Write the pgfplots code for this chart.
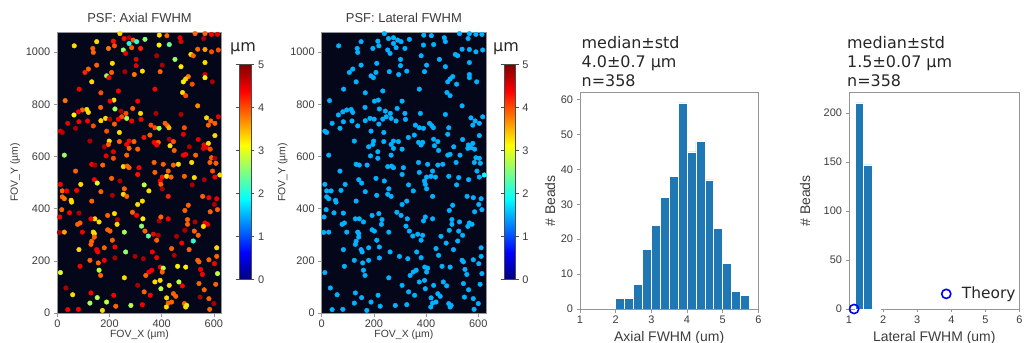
\documentclass[border=0pt]{standalone}
\usepackage{fontspec}
\setmainfont{Liberation Sans}
\newfontfamily\dejavu{DejaVu Sans}
\usepackage{pgfplots}
\pgfplotsset{compat=1.18}
\usepackage{pgfplotstable}
\usetikzlibrary{calc}
\definecolor{bgdark}{RGB}{4,6,26}
\definecolor{histblue}{RGB}{31,119,180}
\definecolor{txt}{RGB}{60,60,60}
\definecolor{spine}{RGB}{150,150,150}

\pgfplotstableread{
x y ax lat
240 1071 3.3 1.5
391 1065 3.3 1.5
420 1063 3.9 1.5
528 1071 3.9 1.5
566 1071 3.9 1.5
591 1068 4.4 1.5
614 1068 4.5 1.5
256 1052 4.3 1.5
275 1055 4.8 1.5
291 1046 3.9 1.5
215 1042 4.3 1.5
151 1040 3.3 1.5
65 1024 3.3 1.5
275 1033 2.0 1.5
304 1040 2.1 1.5
336 1049 2.6 1.5
390 1027 3.2 1.5
429 1029 2.4 1.5
470 1055 4.5 1.5
474 1040 4.5 1.5
561 1052 4.8 1.5
136 1014 3.9 1.5
138 999 3.9 1.5
196 1014 3.8 1.5
219 1024 4.0 1.5
253 1008 2.6 1.5
262 995 4.5 1.5
285 1017 3.9 1.5
319 1014 4.2 1.5
512 991 3.3 1.5
521 986 3.9 1.5
538 1011 3.9 1.5
566 1010 3.6 1.5
591 1001 4.0 1.5
617 1008 4.0 1.5
381 986 4.8 1.5
302 972 4.5 1.5
451 972 2.6 1.5
566 960 3.3 1.5
211 957 3.3 1.5
151 950 3.9 1.5
119 935 3.9 1.5
106 922 4.2 1.5
259 925 4.8 1.5
302 948 4.5 1.5
402 950 4.8 1.5
474 944 3.2 1.5
394 925 3.9 1.5
326 927 3.3 1.5
208 922 3.9 1.5
189 909 2.6 1.5
198 902 4.4 1.5
295 914 3.8 1.5
566 914 4.6 1.5
566 902 3.2 1.5
502 906 3.8 1.5
492 897 3.4 1.5
483 886 3.2 1.5
594 886 4.8 1.5
132 886 3.3 1.5
517 877 4.0 1.5
84 858 4.4 1.5
374 858 4.4 1.5
234 851 4.4 1.5
167 844 4.0 1.5
480 845 3.3 1.5
492 833 4.0 1.5
30 814 3.8 1.5
217 816 3.3 1.5
202 812 4.4 1.5
308 812 4.4 1.5
538 794 3.7 1.5
166 788 3.9 1.5
113 780 3.3 1.5
119 769 3.3 1.5
96 778 3.9 1.5
81 771 4.4 1.5
64 759 3.2 1.5
221 782 2.7 1.5
244 774 4.8 1.5
289 784 3.9 1.5
319 765 3.3 1.5
263 765 4.0 1.5
247 752 4.0 1.5
266 746 2.7 1.5
234 743 4.4 1.5
474 761 4.8 1.5
378 765 4.8 1.5
185 746 3.3 1.5
167 737 3.3 1.5
201 743 4.8 1.5
285 736 4.4 1.5
321 742 4.4 1.5
572 748 3.3 1.5
617 752 4.5 1.5
588 736 3.9 1.5
604 727 3.9 1.5
579 720 3.9 1.5
116 736 4.4 1.5
83 733 4.4 1.5
40 727 4.5 1.5
219 724 3.9 1.5
413 727 3.9 1.5
422 718 3.9 1.5
428 710 3.5 1.5
359 720 4.0 1.5
374 710 4.0 1.5
390 708 2.7 1.5
487 710 4.0 1.5
138 717 4.0 1.5
12 697 4.5 1.5
19 692 4.7 1.5
70 708 4.8 1.5
189 697 4.0 1.5
238 692 3.3 1.5
332 673 4.3 1.5
355 682 3.9 1.5
483 685 4.5 1.5
540 665 4.5 1.5
604 680 3.3 1.5
125 659 4.8 1.5
199 659 3.3 1.5
238 657 3.9 1.5
275 659 4.4 1.5
294 657 3.9 1.5
371 654 4.4 1.5
387 654 3.9 1.5
429 666 4.8 1.5
445 657 4.0 1.5
196 646 3.9 1.5
180 637 4.8 1.5
266 646 4.4 1.5
381 644 4.4 1.5
432 641 3.3 1.5
506 637 4.8 1.5
562 644 4.4 1.5
579 650 3.3 1.5
572 634 4.5 1.5
560 631 4.5 1.5
586 628 4.0 1.5
275 631 3.9 1.5
308 628 3.9 1.5
448 623 3.9 1.5
215 618 4.5 1.5
27 605 2.6 1.5
187 602 4.5 1.5
215 593 4.0 1.5
266 605 3.9 1.5
483 605 4.4 1.5
492 608 4.4 1.5
530 605 3.9 1.5
591 595 3.9 1.5
604 593 4.8 1.5
371 577 3.9 1.5
515 577 3.3 1.5
585 577 3.9 1.5
132 570 4.4 1.5
144 567 4.8 1.5
174 567 3.9 1.5
253 561 3.3 1.5
268 563 3.9 1.5
275 557 3.9 1.5
313 557 4.4 1.5
406 570 3.9 1.5
445 567 3.9 1.5
464 570 3.3 1.5
608 574 3.9 1.5
70 544 3.9 1.5
374 539 3.9 1.5
425 544 3.9 1.5
595 544 4.0 1.5
308 531 4.3 1.5
402 521 4.3 1.5
419 524 3.3 1.5
436 521 3.9 1.5
487 524 3.9 1.5
525 519 3.3 1.5
604 521 4.4 1.5
623 529 3.3 1.9
208 516 3.9 1.5
142 511 4.4 1.5
240 506 4.8 1.5
394 506 4.4 1.5
397 493 3.9 1.5
12 493 4.4 1.5
90 493 3.3 1.5
153 498 3.0 1.5
333 491 2.8 1.5
517 491 4.8 1.5
563 511 4.8 1.5
257 476 3.9 1.5
402 476 4.8 1.5
351 468 3.3 1.5
19 468 3.9 1.5
36 468 4.4 1.5
74 470 4.4 1.5
167 465 3.9 1.5
211 451 4.8 1.5
253 455 3.3 1.5
266 447 3.9 1.5
19 445 3.9 1.5
27 438 3.8 1.5
53 432 3.3 1.5
55 425 3.3 1.5
132 429 3.9 1.5
308 416 3.3 1.5
326 429 3.3 1.5
425 447 4.2 1.5
557 447 3.9 1.5
581 442 4.4 1.5
611 438 4.5 1.5
602 416 4.8 1.5
502 413 3.9 1.5
489 393 3.9 1.5
17 396 3.9 1.5
47 384 4.4 1.5
9 368 4.4 1.5
83 383 4.8 1.5
193 374 3.9 1.5
219 381 3.3 1.5
304 374 4.4 1.5
288 386 3.9 1.5
231 358 4.8 1.5
144 361 3.3 1.5
129 361 4.4 1.5
160 349 3.3 1.5
87 345 3.9 1.5
78 340 3.9 1.5
229 340 3.3 1.5
328 361 3.2 1.5
323 333 2.6 1.5
390 353 4.8 1.5
397 368 3.9 1.5
425 361 4.4 1.5
499 358 3.9 1.5
499 340 3.9 1.5
528 349 4.8 1.5
566 345 4.4 1.5
576 340 4.4 1.5
560 332 3.3 1.5
586 388 3.9 1.5
614 396 3.9 1.5
8 309 4.8 1.5
27 310 3.6 1.5
96 310 4.4 1.5
138 310 3.3 1.5
142 304 3.3 1.5
193 319 3.9 1.5
202 314 3.9 1.5
257 310 2.7 1.5
336 314 3.9 1.5
349 295 2.3 1.5
368 302 4.4 1.5
387 298 4.8 1.5
489 317 4.8 1.5
525 314 3.9 1.5
540 298 3.9 1.5
457 294 4.8 1.5
132 275 3.9 1.5
129 263 3.9 1.5
142 291 3.9 1.5
151 243 4.4 1.5
155 234 4.4 1.5
211 279 3.9 1.5
221 253 4.4 1.5
180 250 3.9 1.5
381 279 3.9 1.5
477 268 4.4 1.5
521 276 2.1 1.5
611 250 3.3 1.5
83 243 3.3 1.5
438 247 3.9 1.5
505 243 3.9 1.5
262 234 2.6 1.5
364 234 4.4 1.5
125 202 3.9 1.5
180 202 4.4 1.5
157 192 3.9 1.5
221 211 4.8 1.5
298 217 4.8 1.5
330 208 4.8 1.5
381 212 4.4 1.5
448 221 4.8 1.5
538 202 3.9 1.5
543 196 3.9 1.5
581 204 3.9 1.5
611 217 3.9 1.5
602 189 4.4 1.5
87 179 4.4 1.5
160 164 2.8 1.5
12 155 3.0 1.5
395 176 4.4 1.5
406 172 2.8 1.5
402 157 3.9 1.5
362 164 4.4 1.5
351 157 4.4 1.5
461 179 3.2 1.5
492 176 3.2 1.5
549 167 4.4 1.5
556 148 4.4 1.5
614 151 2.8 1.5
166 144 3.9 1.5
257 135 3.3 1.5
339 144 3.9 1.5
374 119 3.3 1.5
394 125 3.3 1.5
429 106 3.3 1.5
466 119 2.8 1.5
479 104 4.4 1.5
308 106 4.8 1.5
33 96 4.8 1.5
397 93 2.8 1.5
333 81 3.9 1.5
543 113 3.9 1.5
607 110 3.9 1.5
563 89 3.9 1.5
129 77 4.4 1.5
59 70 3.3 1.5
153 59 2.8 1.5
216 68 4.4 1.5
189 42 2.8 1.5
125 38 2.7 1.5
224 26 3.9 1.5
282 29 2.8 1.5
326 32 4.4 1.5
356 68 4.4 1.5
419 58 3.3 1.5
445 74 3.9 1.5
454 64 3.9 1.5
425 38 3.9 1.5
438 42 3.9 1.5
418 23 3.3 1.5
487 36 3.9 1.5
496 29 2.8 1.5
492 23 3.3 1.5
547 61 4.8 1.5
581 55 3.9 1.5
600 36 4.8 1.5
584 14 3.9 1.5
40 13 4.4 1.5
81 14 4.4 1.5
173 10 3.3 1.5
}\beads

\pgfplotsset{
  base/.style={
    scale only axis,
    axis line style={spine, line width=0.6bp},
    tick style={spine, line width=0.6bp},
    major tick length=3.5bp,
    tick align=outside,
    tick pos=left,
    tick label style={font=\fontsize{11}{13}\selectfont, text=txt},
    /pgf/number format/assume math mode=true,
    /pgf/number format/1000 sep={},
  },
  mapax/.style={
    base,
    width=164.4bp, height=281bp,
    xmin=0, xmax=630, ymin=0, ymax=1077,
    xtick={0,200,400,600}, ytick={0,200,...,1000},
    axis background/.style={fill=bgdark},
    colormap/jet, point meta min=0, point meta max=5,
    xlabel={FOV\_X (µm)}, ylabel={FOV\_Y (µm)},
    label style={font=\fontsize{10.5}{12}\selectfont, text=txt},
    xlabel style={at={(axis description cs:0.5,-0.087)}, anchor=base},
    title style={at={(axis description cs:0.5,1.0285)}, anchor=center, font=\fontsize{13}{15}\selectfont, text=txt},
    colorbar,
  },
  cbar/.style={
    colorbar style={
      at={($(parent axis.south east)+(9.5bp,33.5bp)$)}, anchor=south west,
      width=11.3bp, height=215bp, scale only axis,
      ytick={0,1,2,3,4,5}, tick align=outside, major tick length=3.5bp,
      yticklabel pos=right,
      axis line style={black!70, line width=0.6bp},
      tick style={black!70, line width=0.6bp},
      tick label style={font=\fontsize{11}{13}\selectfont, text=txt},
      /pgf/number format/assume math mode=true,
    },
  },
  histax/.style={
    base,
    height=216.3bp,
    xmin=1, xmax=6, ymin=0,
    xtick={1,2,3,4,5,6},
    label style={font=\fontsize{14}{16}\selectfont, text=txt},
    xlabel style={at={(axis description cs:0.5,-0.151)}, anchor=base},
    ylabel={\# Beads},
  },
}

\begin{document}
\begin{tikzpicture}

% Panel 1: axial map
\begin{axis}[mapax, cbar, at={(57.3bp,30bp)}, anchor=south west,
  title={PSF: Axial FWHM},
  ylabel style={at={(axis description cs:-0.257,0.5)}, anchor=center}]
\addplot[scatter, only marks, mark=*, mark size=2.3bp, point meta=explicit,
  scatter/use mapped color={draw=mapped color, fill=mapped color}]
  table[x=x, y=y, meta=ax] {\beads};
\end{axis}

% Panel 2: lateral map
\begin{axis}[mapax, cbar, at={(321.7bp,30bp)}, anchor=south west,
  title={PSF: Lateral FWHM},
  ylabel style={at={(axis description cs:-0.237,0.5)}, anchor=center}]
\addplot[scatter, only marks, mark=*, mark size=2.3bp, point meta=explicit,
  scatter/use mapped color={draw=mapped color, fill=mapped color}]
  table[x=x, y=y, meta=lat] {\beads};
\end{axis}

% Panel 3: axial histogram
\begin{axis}[histax, at={(580bp,34bp)}, anchor=south west, width=178.3bp,
  ymax=61.95, ytick={0,10,...,60},
  xlabel={Axial FWHM (um)},
  ylabel style={at={(axis description cs:-0.168,0.5)}, anchor=center}]
\addplot[ybar interval, fill=histblue, draw=white, line width=0.5bp] coordinates {
(2.00,3) (2.25,3) (2.50,7) (2.75,17) (3.00,24) (3.25,32) (3.50,38) (3.75,59)
(4.00,45) (4.25,48) (4.50,37) (4.75,23) (5.00,13) (5.25,5) (5.50,4) (5.75,0)};
\end{axis}

% Panel 4: lateral histogram
\begin{axis}[histax, at={(849bp,34bp)}, anchor=south west, width=170.5bp,
  ymax=220.5, ytick={0,50,...,200}, clip=false,
  xlabel={Lateral FWHM (um)},
  ylabel style={at={(axis description cs:-0.258,0.5)}, anchor=center},
  legend style={at={(axis description cs:1.007,0.02)}, anchor=south east,
    draw=none, fill=none, column sep=9bp,
    font=\dejavu\fontsize{15.5}{18}\selectfont, text=black!85},
  legend cell align=left]
\addplot[ybar interval, fill=histblue, draw=white, line width=0.5bp, forget plot] coordinates {
(1.18,210) (1.43,147) (1.68,1) (1.93,0)};
\addplot[only marks, mark=o, mark size=4.6bp, draw=blue, line width=1.6bp] coordinates {(1.15,0)};
\addlegendentry{Theory}
\end{axis}

% colorbar unit labels
\node[font=\dejavu\fontsize{16}{18}\selectfont, text=black!85] at (243bp,294bp) {µm};
\node[font=\dejavu\fontsize{16}{18}\selectfont, text=black!85] at (506bp,294bp) {µm};

% histogram annotations
\begin{scope}[every node/.style={anchor=base west, inner sep=0pt, font=\dejavu\fontsize{16}{19}\selectfont, text=black!85}]
\node at (581.5bp,294.7bp) {median±std};
\node at (581.5bp,275.5bp) {4.0±0.7 µm};
\node at (581.5bp,256.3bp) {n=358};
\node at (847bp,294.7bp) {median±std};
\node at (847bp,275.5bp) {1.5±0.07 µm};
\node at (847bp,256.3bp) {n=358};
\end{scope}

\pgfresetboundingbox
\useasboundingbox (0bp,0bp) rectangle (1026bp,343bp);
\end{tikzpicture}
\end{document}
